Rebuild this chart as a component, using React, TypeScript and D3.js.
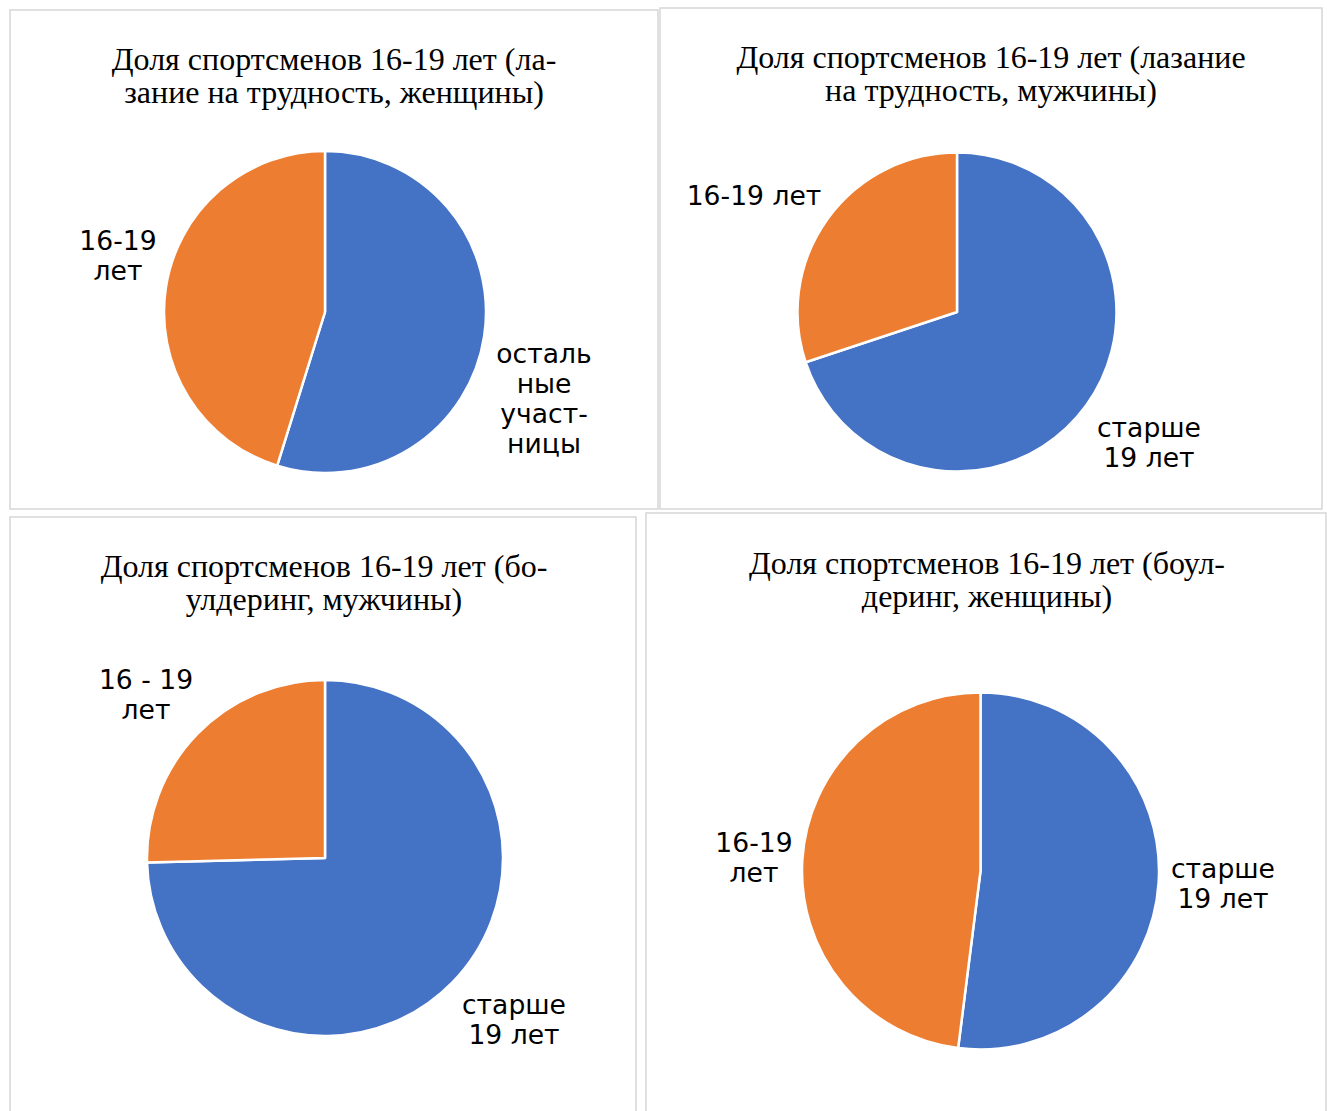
import React from "react";
import * as d3 from "d3";

const W = 1327;
const H = 1111;

const categories = ["старше 19 лет", "16-19 лет"];
const colors = ["#4472C4", "#ED7D31"];

const values1 = [54.8, 45.2];
const values2 = [69.9, 30.1];
const values3 = [74.6, 25.4];
const values4 = [52.0, 48.0];

const titles1 = ["Доля спортсменов 16-19 лет (ла-", "зание на трудность, женщины)"];
const titles2 = ["Доля спортсменов 16-19 лет (лазание", "на трудность, мужчины)"];
const titles3 = ["Доля спортсменов 16-19 лет (бо-", "улдеринг, мужчины)"];
const titles4 = ["Доля спортсменов 16-19 лет (боул-", "деринг, женщины)"];

const labels1 = [["осталь", "ные", "участ-", "ницы"], ["16-19", "лет"]];
const labels2 = [["старше", "19 лет"], ["16-19 лет"]];
const labels3 = [["старше", "19 лет"], ["16 - 19", "лет"]];
const labels4 = [["старше", "19 лет"], ["16-19", "лет"]];

type Panel = {
  box: [number, number, number, number];
  titles: string[];
  titleX: number;
  titleY: number;
  values: number[];
  labels: string[][];
  cx: number;
  cy: number;
  r: number;
  labelPos: [number, number][];
};

const panels: Panel[] = [
  {
    box: [10, 10, 648, 499],
    titles: titles1,
    titleX: 334,
    titleY: 70,
    values: values1,
    labels: labels1,
    cx: 325,
    cy: 312,
    r: 161,
    labelPos: [
      [544, 363],
      [118, 250],
    ],
  },
  {
    box: [660, 8, 662, 501],
    titles: titles2,
    titleX: 991,
    titleY: 68,
    values: values2,
    labels: labels2,
    cx: 957,
    cy: 312,
    r: 159.5,
    labelPos: [
      [1149, 437],
      [754, 205],
    ],
  },
  {
    box: [10, 517, 626, 620],
    titles: titles3,
    titleX: 324,
    titleY: 577,
    values: values3,
    labels: labels3,
    cx: 325,
    cy: 858,
    r: 178,
    labelPos: [
      [514, 1014],
      [146, 689],
    ],
  },
  {
    box: [646, 513, 680, 620],
    titles: titles4,
    titleX: 987,
    titleY: 574,
    values: values4,
    labels: labels4,
    cx: 980.5,
    cy: 871,
    r: 178.5,
    labelPos: [
      [1223, 878],
      [754, 852],
    ],
  },
];

function PiePanel({ p }: { p: Panel }) {
  const pie = d3
    .pie<number>()
    .sort(null)
    .value((d) => d);
  const arcs = pie(p.values);
  const arc = d3.arc<d3.PieArcDatum<number>>().innerRadius(0).outerRadius(p.r);
  return (
    <g>
      <rect
        x={p.box[0]}
        y={p.box[1]}
        width={p.box[2]}
        height={p.box[3]}
        fill="#fff"
        stroke="#d9d9d9"
        strokeWidth={1.6}
      />
      <text
        fontFamily="'Liberation Serif', 'Times New Roman', serif"
        fontSize={32}
        fill="#000"
        textAnchor="middle"
      >
        {p.titles.map((t, i) => (
          <tspan key={i} x={p.titleX} y={p.titleY + i * 33}>
            {t}
          </tspan>
        ))}
      </text>
      <g transform={`translate(${p.cx},${p.cy})`}>
        {arcs.map((a, i) => (
          <path
            key={i}
            d={arc(a) || ""}
            fill={colors[i]}
            stroke="#fff"
            strokeWidth={2.5}
            strokeLinejoin="round"
          >
            <title>{categories[i]}</title>
          </path>
        ))}
      </g>
      {p.labels.map((lines, i) => (
        <text
          key={i}
          fontFamily="'DejaVu Sans', Verdana, sans-serif"
          fontSize={26.6}
          fill="#000"
          textAnchor="middle"
        >
          {lines.map((l, j) => (
            <tspan key={j} x={p.labelPos[i][0]} y={p.labelPos[i][1] + j * 30}>
              {l}
            </tspan>
          ))}
        </text>
      ))}
    </g>
  );
}

export default function App() {
  return (
    <svg
      width={W}
      height={H}
      viewBox={`0 0 ${W} ${H}`}
      style={{ position: "absolute", left: 0, top: 0, background: "#fff" }}
    >
      <rect x={0} y={0} width={W} height={H} fill="#fff" />
      {panels.map((p, i) => (
        <PiePanel key={i} p={p} />
      ))}
    </svg>
  );
}
